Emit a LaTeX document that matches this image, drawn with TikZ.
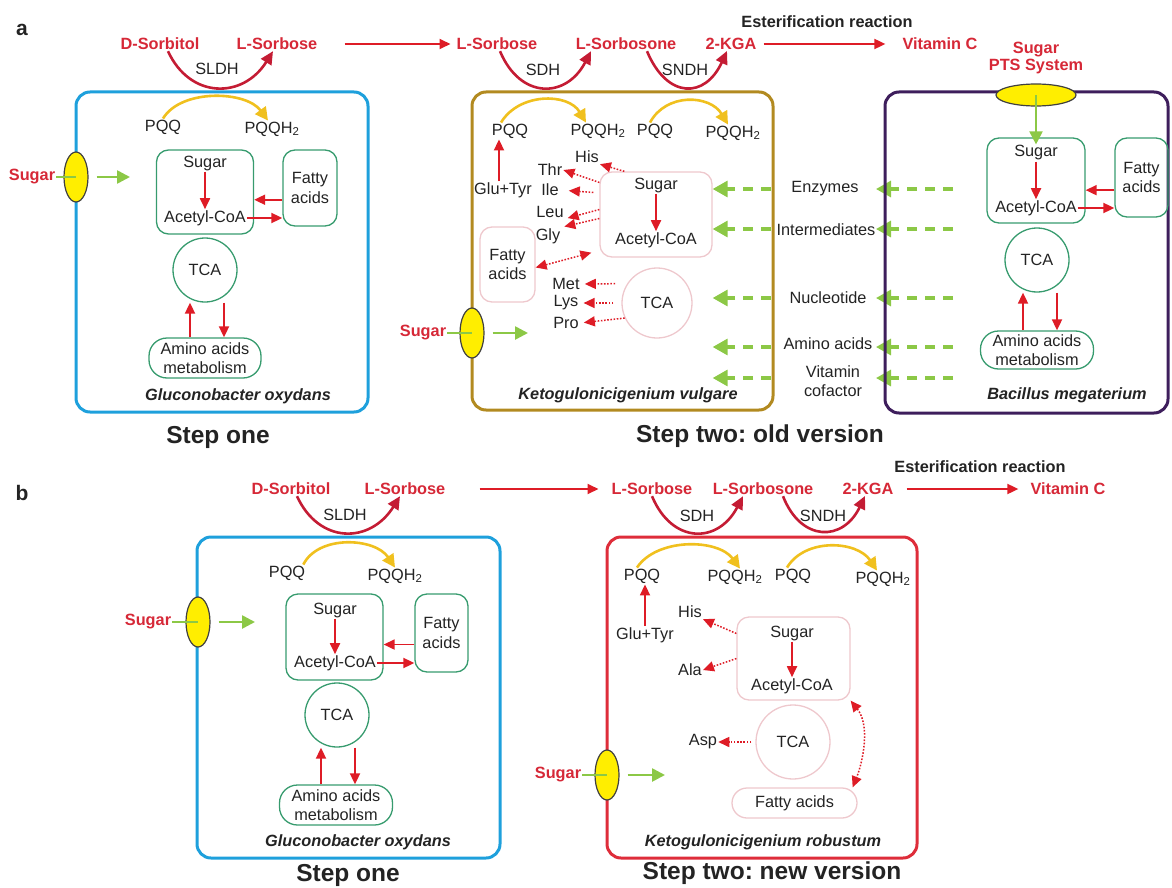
\documentclass[tikz,border=0pt]{standalone}
\usepackage{fontspec}
\setmainfont{Liberation Sans}
\usetikzlibrary{arrows.meta,shapes.geometric}

\definecolor{labred}{RGB}{214,40,55}
\definecolor{arrred}{RGB}{222,28,38}
\definecolor{curvred}{RGB}{196,28,52}
\definecolor{boxgreen}{RGB}{55,155,110}
\definecolor{boxpink}{RGB}{238,200,205}
\definecolor{arrgrn}{RGB}{140,200,70}
\definecolor{arryel}{RGB}{240,192,30}
\definecolor{ovalyel}{RGB}{255,238,0}
\definecolor{cellblue}{RGB}{30,160,220}
\definecolor{cellolive}{RGB}{178,138,32}
\definecolor{cellpurple}{RGB}{62,30,92}
\definecolor{cellred}{RGB}{222,45,58}
\definecolor{txt}{RGB}{35,35,35}

\tikzset{
  lab/.style={font=\fontsize{16.3}{19.5}\selectfont, text=txt, inner sep=1pt},
  redlab/.style={font=\fontsize{16.3}{17.5}\selectfont\bfseries, text=labred, inner sep=1pt},
  estlab/.style={font=\fontsize{16.3}{17}\selectfont\bfseries, text=txt, inner sep=1pt},
  species/.style={font=\fontsize{16.3}{17}\selectfont\bfseries\itshape, text=txt, inner sep=1pt},
  steplab/.style={font=\fontsize{24.5}{27}\selectfont\bfseries, text=txt},
  panellab/.style={font=\fontsize{21}{24}\selectfont\bfseries, text=txt},
  cell/.style={draw, rounded corners=14pt, line width=3pt, inner sep=0pt},
  gbox/.style={lab, draw=boxgreen, rounded corners=12pt, line width=1.3pt, inner sep=0pt},
  pbox/.style={lab, draw=boxpink, rounded corners=12pt, line width=1.3pt, inner sep=0pt},
  porter/.style={ellipse, draw=black!75, fill=ovalyel, line width=1.2pt, minimum width=24pt, minimum height=50pt, inner sep=0pt},
  redarr/.style={-{Triangle[length=11pt,width=10pt]}, draw=arrred, line width=1.8pt},
  dotarr/.style={redarr, line width=1.5pt, dash pattern=on 1.6pt off 1.6pt},
  dotdbl/.style={dotarr, {Triangle[length=11pt,width=10pt]}-{Triangle[length=11pt,width=10pt]}},
  curvarr/.style={-{Triangle[length=13pt,width=12pt]}, draw=curvred, line width=2.6pt},
  yelarr/.style={-{Triangle[length=13pt,width=13pt]}, draw=arryel, line width=2.6pt},
  grnarr/.style={-{Triangle[length=13pt,width=13pt]}, draw=arrgrn, line width=2.6pt},
  grnline/.style={draw=arrgrn, line width=1.5pt},
  grndash/.style={-{Triangle[length=15pt,width=16pt]}, draw=arrgrn, line width=3.2pt, dash pattern=on 10pt off 8pt}
}

\begin{document}
\frenchspacing
\begin{tikzpicture}[x=1pt,y=-1pt]
\useasboundingbox (0,0) rectangle (1172,888);

% a: step one
\node[panellab] (pa) at (22,30) {a};
\node[cell, draw=cellblue, minimum width=292pt, minimum height=320pt] (aCell1) at (222,252) {};
\node[redlab] (aSorbit) at (160,44) {D-Sorbitol};
\node[redlab] (aSorb1) at (277,44) {L-Sorbose};
\node[lab] (aSldh) at (217,69) {SLDH};
\draw[curvarr] ([xshift=8pt]aSorbit.south) .. controls +(22,48) and +(-30,48) .. ([xshift=-4pt]aSorb1.south);
\node[lab] (aPqq1) at (163,127) {PQQ};
\node[lab] (aPqqh1) at (272,129) {PQQH\textsubscript{2}};
\draw[yelarr] (aPqq1.north) .. controls +(18,-30) and +(-22,-30) .. ([xshift=-4pt]aPqqh1.north);
\node[gbox, minimum width=97pt, minimum height=84pt] (aSugbox1) at (205,192) {};
\node[lab] (aSug1) at (205,163) {Sugar};
\node[lab] (aAce1) at (205,218) {Acetyl-CoA};
\draw[redarr] (aSug1) -- (aAce1);
\node[gbox, align=center, minimum width=54pt, minimum height=76pt] (aFat1) at (310,188) {Fatty\\acids};
\draw[redarr] (aFat1.203) -- (aFat1.203 -| aSugbox1.east);
\draw[redarr] (aAce1.east) -- (aAce1.east -| aFat1.west);
\node[gbox, circle, minimum size=64pt] (aTca1) at (205,270) {TCA};
\node[gbox, rounded corners=18pt, align=center, minimum width=112pt, minimum height=40pt] (aAmi1) at (205,358) {Amino acids\\metabolism};
\draw[redarr] ([xshift=-15pt]aAmi1.north) -- ([xshift=-15pt]aTca1.south);
\draw[redarr] ([xshift=19pt]aTca1.south) -- ([xshift=19pt]aAmi1.north);
\node[species] (aSp1) at (238,396) {Gluconobacter oxydans};
\node[porter] (aPor1) at (76,177) {};
\node[redlab] (aIn1) at (32,177) {Sugar};
\coordinate (aEnd1) at (130,177);
\draw[grnline] (aIn1.east) -- (aPor1.center);
\draw[grnarr] ([xshift=8pt]aPor1.east) -- (aEnd1);
\node[steplab] (aStep1) at (218,437) {Step one};

% a: step two, K. vulgare
\node[cell, draw=cellolive, minimum width=301pt, minimum height=318pt] (aCell2) at (622.5,251) {};
\node[redlab] (aSorb2) at (497,44) {L-Sorbose};
\node[redlab] (aSorbn1) at (626,44) {L-Sorbosone};
\node[redlab] (aKga1) at (731,44) {2-KGA};
\draw[redarr, shorten <=26pt, shorten >=5pt] (aSorb1.east) -- (aSorb2.west);
\node[lab] (aSdh) at (543,70) {SDH};
\node[lab] (aSndh) at (685,70) {SNDH};
\draw[curvarr] ([xshift=3pt]aSorb2.south) .. controls +(20,48) and +(-25,48) .. ([xshift=-35pt]aSorbn1.south);
\draw[curvarr] ([xshift=21pt]aSorbn1.south) .. controls +(20,48) and +(-22,48) .. ([xshift=-4pt]aKga1.south);
\node[lab] (aPqq2) at (510,131) {PQQ};
\node[lab] (aPqqh2) at (598,131) {PQQH\textsubscript{2}};
\node[lab] (aPqq3) at (655,131) {PQQ};
\node[lab] (aPqqh3) at (733,133) {PQQH\textsubscript{2}};
\draw[yelarr] ([xshift=-9pt]aPqq2.north) .. controls +(18,-30) and +(-18,-30) .. ([xshift=-12pt]aPqqh2.north);
\draw[yelarr] ([xshift=-5pt]aPqq3.north) .. controls +(16,-30) and +(-18,-30) .. ([xshift=-5pt]aPqqh3.north);
\node[lab] (aGlu) at (503,190) {Glu+Tyr};
\draw[redarr] ([xshift=-4pt]aGlu.north) -- ([xshift=-11pt]aPqq2.south);
\node[lab] (aHis) at (587,157) {His};
\node[lab] (aThr) at (550,170) {Thr};
\node[lab] (aIle) at (550,190) {Ile};
\node[lab] (aLeu) at (550,212) {Leu};
\node[lab] (aGly) at (548,236) {Gly};
\node[lab] (aMet) at (566,284) {Met};
\node[lab] (aLys) at (566,303) {Lys};
\node[lab] (aPro) at (566,323) {Pro};
\node[pbox, minimum width=112pt, minimum height=85pt] (aSugbox2) at (656,214.5) {};
\node[lab] (aSug2) at (656,185) {Sugar};
\node[lab] (aAce2) at (656,240) {Acetyl-CoA};
\draw[redarr] (aSug2) -- (aAce2);
\node[pbox, align=center, minimum width=55pt, minimum height=75pt] (aFat2) at (507.5,264.5) {Fatty\\acids};
\node[pbox, circle, minimum size=70pt] (aTca2) at (657,303) {TCA};
\draw[dotarr] ([xshift=25pt]aSugbox2.north west) -- (aHis.south east);
\draw[dotarr] ([yshift=32pt]aSugbox2.west) -- (aThr.east);
\draw[dotarr, shorten >=9pt] ([xshift=-6pt,yshift=22pt]aSugbox2.west) -- (aIle.east);
\draw[dotarr, shorten >=3pt] ([yshift=5pt]aSugbox2.west) -- (aLeu.south east);
\draw[dotarr, shorten >=3pt] ([yshift=-4pt]aSugbox2.west) -- (aGly.north east);
\draw[dotdbl] ([yshift=-3pt]aFat2.east) -- ([xshift=-8pt,yshift=5pt]aSugbox2.south west);
\draw[dotarr, shorten <=12pt, shorten >=4pt] (aTca2.147) -- (aMet.east);
\draw[dotarr, shorten <=8pt, shorten >=4pt] (aTca2.west) -- (aLys.east);
\draw[dotarr, shorten >=4pt] (aTca2.205) -- (aPro.east);
\node[species] (aSp2) at (628,395) {Ketogulonicigenium vulgare};
\node[porter] (aPor2) at (472,333) {};
\node[redlab] (aIn2) at (423,333) {Sugar};
\coordinate (aEnd2) at (528,333);
\draw[grnline] (aIn2.east) -- (aPor2.center);
\draw[grnarr] ([xshift=8pt]aPor2.east) -- (aEnd2);

% exchange between the two cells
\node[lab] (aEnz) at (825,189) {Enzymes};
\node[lab] (aInt) at (826,230) {Intermediates};
\node[lab] (aNuc) at (828,298) {Nucleotide};
\node[lab] (aAmino) at (828,344) {Amino acids};
\node[lab, align=center] (aVit) at (833,381) {Vitamin\\cofactor};
\foreach \y [count=\i] in {189,229,298,347,378} {
  \coordinate (gL\i) at (771,\y);
  \coordinate (gR\i) at (953,\y);
  \coordinate (gT\i) at (876,\y);
  \draw[grndash] (gL\i) -- (gL\i -| aSugbox2.east);
  \draw[grndash] (gR\i) -- (gT\i);
}

% a: step two, B. megaterium
\node[cell, draw=cellpurple, minimum width=283pt, minimum height=321pt] (aCell3) at (1026.5,252.5) {};
\node[estlab] (aEst) at (827,22) {Esterification reaction};
\node[redlab] (aVitc) at (940,44) {Vitamin C};
\draw[redarr, shorten <=6pt, shorten >=16pt] (aKga1.east) -- (aVitc.west);
\node[redlab, align=center] (mPts) at (1036,58) {Sugar\\PTS System};
\node[porter, minimum width=80pt, minimum height=22pt] (mPor) at (1036,95) {};
\node[gbox, minimum width=98pt, minimum height=85pt] (mSugbox) at (1036,180.5) {};
\node[lab] (mSug) at (1036,153) {Sugar};
\node[lab] (mAce) at (1036,208) {Acetyl-CoA};
\draw[redarr] (mSug) -- (mAce);
\draw[grnarr, line width=2pt] (mPor.center) -- (mSug.north);
\node[gbox, align=center, minimum width=53pt, minimum height=79pt] (mFat) at (1141.5,177.5) {Fatty\\acids};
\draw[redarr] (mFat.205) -- (mFat.205 -| mSugbox.east);
\draw[redarr] (mAce.east) -- (mAce.east -| mFat.west);
\node[gbox, circle, minimum size=64pt] (mTca) at (1037,260) {TCA};
\node[gbox, rounded corners=18pt, align=center, minimum width=113pt, minimum height=38pt] (mAmi) at (1037,350) {Amino acids\\metabolism};
\draw[redarr] ([xshift=-14pt]mAmi.north) -- ([xshift=-14pt]mTca.south);
\draw[redarr] ([xshift=20pt]mTca.south) -- ([xshift=20pt]mAmi.north);
\node[species] (mSp) at (1067,395) {Bacillus megaterium};
\node[steplab] (aStep2) at (760,436) {Step two: old version};

% b: step one
\node[panellab] (pb) at (22,493) {b};
\node[cell, draw=cellblue, minimum width=303pt, minimum height=321pt] (bCell1) at (348.5,697.5) {};
\node[redlab] (bSorbit) at (291,489) {D-Sorbitol};
\node[redlab] (bSorb1) at (405,489) {L-Sorbose};
\node[lab] (bSldh) at (345,515) {SLDH};
\draw[curvarr] ([xshift=6pt]bSorbit.south) .. controls +(22,48) and +(-30,48) .. ([xshift=-5pt]bSorb1.south);
\node[lab] (bPqq1) at (287,573) {PQQ};
\node[lab] (bPqqh1) at (395,576) {PQQH\textsubscript{2}};
\draw[yelarr] ([xshift=-3pt]bPqq1.north east) .. controls +(15,-30) and +(-20,-30) .. (bPqqh1.north);
\node[gbox, minimum width=97pt, minimum height=86pt] (bSugbox1) at (334.5,637) {};
\node[lab] (bSug1) at (335,610) {Sugar};
\node[lab] (bAce1) at (335,663) {Acetyl-CoA};
\draw[redarr] (bSug1) -- (bAce1);
\node[gbox, align=center, minimum width=53pt, minimum height=78pt] (bFat1) at (441.5,633) {Fatty\\acids};
\draw[redarr] (bFat1.203) -- (bFat1.203 -| bSugbox1.east);
\draw[redarr] (bAce1.east) -- (bAce1.east -| bFat1.west);
\node[gbox, circle, minimum size=64pt] (bTca1) at (337,715) {TCA};
\node[gbox, rounded corners=18pt, align=center, minimum width=113pt, minimum height=40pt] (bAmi1) at (336,805) {Amino acids\\metabolism};
\draw[redarr] ([xshift=-15pt]bAmi1.north) -- ([xshift=-16pt]bTca1.south);
\draw[redarr] ([xshift=18pt]bTca1.south) -- ([xshift=19pt]bAmi1.north);
\node[species] (bSp1) at (358,842) {Gluconobacter oxydans};
\node[porter] (bPor1) at (198,622) {};
\node[redlab] (bIn1) at (148,622) {Sugar};
\coordinate (bEnd1) at (255,622);
\draw[grnline] (bIn1.east) -- (bPor1.center);
\draw[grnarr] ([xshift=8pt]bPor1.east) -- (bEnd1);
\node[steplab] (bStep1) at (348,875) {Step one};

% b: step two, K. robustum
\node[cell, draw=cellred, minimum width=310pt, minimum height=321pt] (bCell2) at (762,697.5) {};
\node[redlab] (bSorb2) at (652,489) {L-Sorbose};
\node[redlab] (bSorbn1) at (763,489) {L-Sorbosone};
\node[redlab] (bKga1) at (868,489) {2-KGA};
\draw[redarr, shorten <=33pt, shorten >=12pt] (bSorb1.east) -- (bSorb2.west);
\node[lab] (bSdh) at (697,516) {SDH};
\node[lab] (bSndh) at (823,516) {SNDH};
\draw[curvarr] (bSorb2.south) .. controls +(20,48) and +(-25,48) .. ([xshift=-20pt]bSorbn1.south);
\draw[curvarr] ([xshift=20pt]bSorbn1.south) .. controls +(18,46) and +(-22,46) .. ([xshift=-3pt]bKga1.south);
\node[estlab] (bEst) at (980,467) {Esterification reaction};
\node[redlab] (bVitc) at (1068,489) {Vitamin C};
\draw[redarr, shorten <=12pt, shorten >=11pt] (bKga1.east) -- (bVitc.west);
\node[lab] (bPqq2) at (642,576) {PQQ};
\node[lab] (bPqqh2) at (735,577) {PQQH\textsubscript{2}};
\node[lab] (bPqq3) at (793,576) {PQQ};
\node[lab] (bPqqh3) at (883,579) {PQQH\textsubscript{2}};
\draw[yelarr] ([xshift=-5pt]bPqq2.north) .. controls +(20,-30) and +(-22,-30) .. ([xshift=5pt]bPqqh2.north);
\draw[yelarr] ([xshift=-6pt]bPqq3.north) .. controls +(18,-30) and +(-20,-30) .. ([xshift=-6pt]bPqqh3.north);
\node[lab] (bGlu) at (645,635) {Glu+Tyr};
\draw[redarr] (bGlu.north) -- ([xshift=3pt]bPqq2.south);
\node[lab] (bHis) at (690,612) {His};
\node[lab] (bAla) at (690,670) {Ala};
\node[pbox, minimum width=113pt, minimum height=83pt] (bSugbox2) at (793.5,658.5) {};
\node[lab] (bSug2) at (792,633) {Sugar};
\node[lab] (bAce2) at (792,686) {Acetyl-CoA};
\draw[redarr] (bSug2) -- (bAce2);
\draw[dotarr] ([yshift=25pt]bSugbox2.west) -- (bHis.south east);
\draw[dotarr] (bSugbox2.west) -- (bAla.east);
\node[pbox, circle, minimum size=74pt] (bTca2) at (793,742) {TCA};
\node[lab] (bAsp) at (703,742) {Asp};
\draw[dotarr, shorten <=4pt] (bTca2.west) -- (bAsp.east);
\node[pbox, rounded corners=15pt, minimum width=125pt, minimum height=30pt] (bFat2) at (794.5,803) {Fatty acids};
\draw[dotdbl] (bSugbox2.south east) .. controls +(20,25) and +(10,-25) .. ([xshift=-5pt]bFat2.north east);
\node[porter] (bPor2) at (607,775) {};
\node[redlab] (bIn2) at (558,775) {Sugar};
\coordinate (bEnd2) at (665,775);
\draw[grnline] (bIn2.east) -- (bPor2.center);
\draw[grnarr] ([xshift=8pt]bPor2.east) -- (bEnd2);
\node[species] (bSp2) at (763,842) {Ketogulonicigenium robustum};
\node[steplab] (bStep2) at (772,873) {Step two: new version};
\end{tikzpicture}
\end{document}
